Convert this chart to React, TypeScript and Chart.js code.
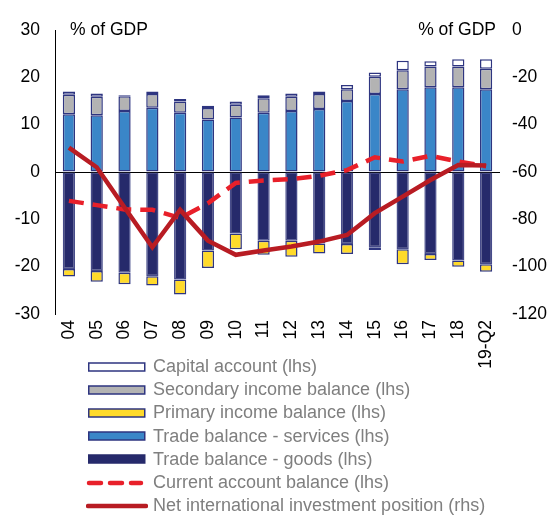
import React, { useEffect, useRef } from 'react';
import { Chart, registerables } from 'chart.js';

Chart.register(...registerables);

const categories = ['04', '05', '06', '07', '08', '09', '10', '11', '12', '13', '14', '15', '16', '17', '18', '19-Q2'];
const tradeGoods = [-20.5, -20.9, -21.3, -22.0, -22.7, -16.6, -13.0, -14.5, -14.5, -15.1, -15.2, -15.9, -16.3, -17.3, -18.7, -19.5];
const tradeServices = [12.2, 12.0, 12.9, 13.6, 12.5, 11.1, 11.5, 12.5, 12.9, 13.3, 15.0, 16.5, 17.5, 17.9, 17.9, 17.5];
const primaryIncome = [-1.6, -2.3, -2.4, -2.0, -3.2, -3.7, -3.3, -3.0, -3.4, -2.1, -2.1, -0.6, -3.2, -1.3, -1.3, -1.6];
const secondaryIncome = [4.1, 3.9, 3.1, 2.9, 2.4, 2.4, 2.7, 3.1, 3.0, 3.2, 2.5, 3.6, 4.0, 4.4, 4.4, 4.3];
const capitalAccount = [0.7, 0.7, 0.2, 0.5, 0.5, 0.5, 0.7, 0.6, 0.7, 0.5, 0.9, 0.9, 2.0, 1.1, 1.5, 2.0];
const currentAccount = [-6.1, -7.0, -7.9, -8.0, -9.7, -6.6, -2.3, -1.8, -1.5, -0.8, 0.4, 3.1, 2.2, 3.4, 2.2, 1.2];
const niip = [-49.7, -58, -75, -91.8, -76, -89, -95, -93.2, -91.5, -89.4, -86.6, -77.4, -70.4, -63.4, -57, -57.3];

const leftTitle = '% of GDP';
const rightTitle = '% of GDP';

const FONT = 'Arial, "Liberation Sans", sans-serif';
const NAVY = '#262A6B';
const BORDER = '#2E3580';

type LegendItem = { label: string; kind: 'box' | 'dash' | 'line'; fill: string; border: string };
const legendItems: LegendItem[] = [
  { label: 'Capital account (lhs)', kind: 'box', fill: '#FFFFFF', border: BORDER },
  { label: 'Secondary income balance (lhs)', kind: 'box', fill: '#B3B3B3', border: BORDER },
  { label: 'Primary income balance (lhs)', kind: 'box', fill: '#FFDA2B', border: BORDER },
  { label: 'Trade balance - services (lhs)', kind: 'box', fill: '#3A86C8', border: BORDER },
  { label: 'Trade balance - goods (lhs)', kind: 'box', fill: NAVY, border: NAVY },
  { label: 'Current account balance (lhs)', kind: 'dash', fill: '#E8202A', border: '#E8202A' },
  { label: 'Net international investment position (rhs)', kind: 'line', fill: '#B81C23', border: '#B81C23' },
];

const titlesPlugin = {
  id: 'topTitles',
  afterDraw(chart: any) {
    const { ctx, chartArea } = chart;
    ctx.save();
    ctx.font = `17.5px ${FONT}`;
    ctx.fillStyle = '#000';
    ctx.textBaseline = 'middle';
    ctx.textAlign = 'left';
    ctx.fillText(leftTitle, chartArea.left + 15, chartArea.top);
    ctx.textAlign = 'right';
    ctx.fillText(rightTitle, chartArea.right - 4, chartArea.top);
    ctx.restore();
  },
};

export default function App() {
  const ref = useRef<HTMLCanvasElement>(null);

  useEffect(() => {
    if (!ref.current) return;
    const barCommon = {
      type: 'bar' as const,
      yAxisID: 'y',
      borderWidth: 1.5,
      borderSkipped: false,
      barPercentage: 0.44,
      categoryPercentage: 1,
      order: 1,
    };
    const chart = new Chart(ref.current, {
      type: 'bar',
      data: {
        labels: categories,
        datasets: [
          {
            type: 'line',
            label: 'Net international investment position (rhs)',
            data: niip,
            yAxisID: 'y1',
            borderColor: '#B81C23',
            borderWidth: 4.5,
            pointRadius: 0,
            tension: 0,
            order: 0,
          } as any,
          {
            type: 'line',
            label: 'Current account balance (lhs)',
            data: currentAccount,
            yAxisID: 'y',
            borderColor: '#E8202A',
            borderWidth: 4.5,
            borderDash: [15, 9],
            pointRadius: 0,
            tension: 0,
            order: 0,
          } as any,
          { ...barCommon, label: 'Trade balance - goods (lhs)', data: tradeGoods, backgroundColor: NAVY, borderColor: '#474C8A' },
          { ...barCommon, label: 'Trade balance - services (lhs)', data: tradeServices, backgroundColor: '#3A86C8', borderColor: BORDER },
          { ...barCommon, label: 'Primary income balance (lhs)', data: primaryIncome, backgroundColor: '#FFDA2B', borderColor: BORDER },
          { ...barCommon, label: 'Secondary income balance (lhs)', data: secondaryIncome, backgroundColor: '#B3B3B3', borderColor: BORDER },
          { ...barCommon, label: 'Capital account (lhs)', data: capitalAccount, backgroundColor: '#FFFFFF', borderColor: BORDER },
        ] as any,
      },
      options: {
        responsive: false,
        animation: false,
        devicePixelRatio: 1,
        layout: { padding: { top: 30, left: 0, right: 0, bottom: 0 } },
        plugins: {
          legend: { display: false },
          tooltip: { enabled: false },
        },
        scales: {
          x: {
            stacked: true,
            grid: { display: false, drawTicks: false },
            border: { display: false },
            ticks: {
              color: '#000',
              font: { family: FONT, size: 17.5 },
              maxRotation: 90,
              minRotation: 90,
              padding: 6,
              autoSkip: false,
            },
            afterFit(scale: any) {
              scale.height = 517 - 314;
            },
          },
          y: {
            stacked: true,
            position: 'left',
            min: -30,
            max: 30,
            ticks: {
              stepSize: 10,
              color: '#000',
              font: { family: FONT, size: 17.5 },
              padding: 15,
            },
            grid: {
              drawTicks: false,
              color: (c: any) => (c.tick && c.tick.value === 0 ? '#000' : 'rgba(0,0,0,0)'),
              lineWidth: 1,
            },
            border: { display: true, color: '#000', width: 1 },
            afterFit(scale: any) {
              scale.width = 55;
            },
          },
          y1: {
            position: 'right',
            min: -120,
            max: 0,
            ticks: {
              stepSize: 20,
              color: '#000',
              font: { family: FONT, size: 17.5 },
              padding: 12,
            },
            grid: { display: false, drawTicks: false },
            border: { display: false },
            afterFit(scale: any) {
              scale.width = 55;
            },
          },
        },
      } as any,
      plugins: [titlesPlugin],
    });
    return () => chart.destroy();
  }, []);

  return (
    <div style={{ position: 'absolute', left: 0, top: 0, width: 555, height: 517, background: '#fff' }}>
      <canvas ref={ref} width={555} height={517} style={{ display: 'block', position: 'absolute', left: 0, top: 0 }} />
      <div style={{ position: 'absolute', left: 86, top: 355, fontFamily: FONT, fontSize: 18, color: '#7F7F7F' }}>
        {legendItems.map((it) => (
          <div key={it.label} style={{ display: 'flex', alignItems: 'center', height: 23.2, whiteSpace: 'nowrap' }}>
            <svg width={62} height={12} style={{ display: 'block', marginRight: 5 }}>
              {it.kind === 'box' && (
                <rect x={2.75} y={2} width={56} height={8} fill={it.fill} stroke={it.border} strokeWidth={1.5} />
              )}
              {it.kind === 'dash' && (
                <line x1={3} y1={6} x2={55} y2={6} stroke={it.border} strokeWidth={4.5} strokeDasharray="12 9" strokeLinecap="round" />
              )}
              {it.kind === 'line' && (
                <line x1={2} y1={6} x2={60} y2={6} stroke={it.border} strokeWidth={4.5} strokeLinecap="round" />
              )}
            </svg>
            <span>{it.label}</span>
          </div>
        ))}
      </div>
    </div>
  );
}
